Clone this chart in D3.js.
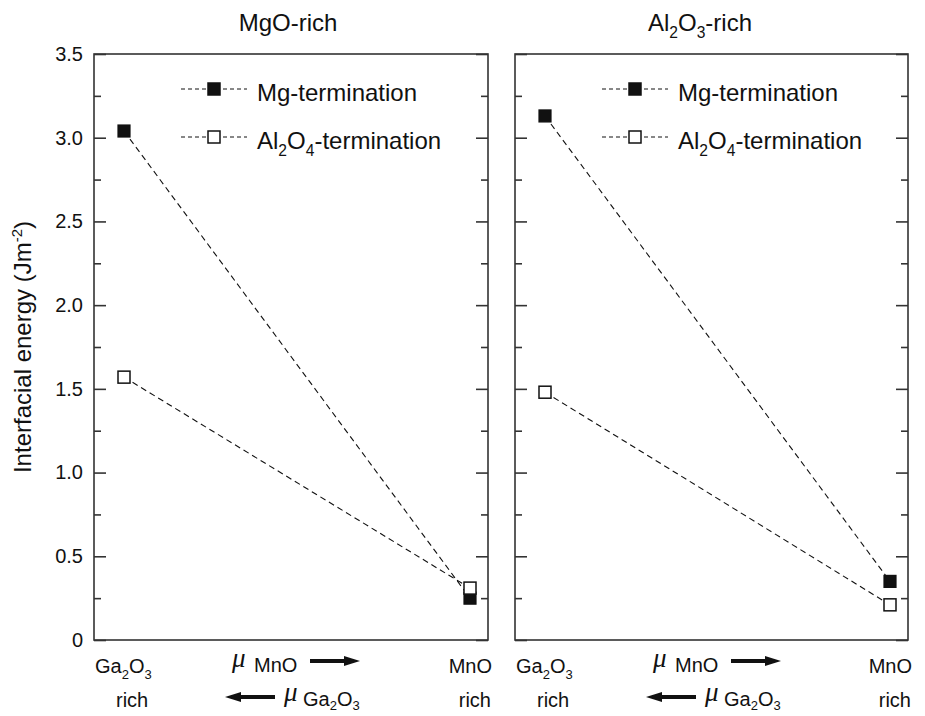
<!DOCTYPE html>
<html>
<head>
<meta charset="utf-8">
<script src="https://cdn.jsdelivr.net/npm/d3@7"></script>
<style>
  body { margin: 0; background: #fff; }
  text { font-family: "Liberation Sans", Arial, sans-serif; fill: #111; }
</style>
</head>
<body>
<div id="chart"></div>
<script>
// panel titles (base text + subscripts handled below)
const panelNames = ["MgO-rich", "Al2O3-rich"];
// interfacial energy at the Ga2O3-rich and MnO-rich limits
const mgTermination = [[3.04, 0.25], [3.13, 0.35]];
const al2o4Termination = [[1.57, 0.31], [1.48, 0.21]];
const majorTicks = [0, 0.5, 1.0, 1.5, 2.0, 2.5, 3.0, 3.5];
const minorTicks = [0.25, 0.75, 1.25, 1.75, 2.25, 2.75, 3.25];

const W = 925, H = 716;
const svg = d3.select("#chart").append("svg")
    .attr("width", W).attr("height", H);

// panel frames
const panelX = [[94, 488], [515, 908]];
const y = d3.scaleLinear().domain([0, 3.5]).range([640, 54]);

// text with subscripts: parts = [[str, isSub], ...]
function subText(sel, parts, size, shift = 0.28) {
  let down = false;
  parts.forEach(([s, sub]) => {
    const t = sel.append("tspan").text(s);
    if (sub) {
      t.attr("font-size", size * 0.65).attr("dy", down ? 0 : size * shift);
      down = true;
    } else {
      t.attr("dy", down ? -size * shift : 0);
      down = false;
    }
  });
}

const titleParts = [
  [["MgO-rich", false]],
  [["Al", false], ["2", true], ["O", false], ["3", true], ["-rich", false]]
];
const titleX = [288, 700];

panelX.forEach(([x0, x1], p) => {
  const g = svg.append("g");
  const x = d3.scaleLinear().domain([0, 1]).range([x0 + 30, x1 - 18]);

  // frame
  g.append("rect")
      .attr("x", x0).attr("y", y(3.5))
      .attr("width", x1 - x0).attr("height", y(0) - y(3.5))
      .attr("fill", "none").attr("stroke", "#333").attr("stroke-width", 1.6);

  // left ticks (labels only on the first panel)
  const left = g.append("g").attr("transform", `translate(${x0},0)`)
      .call(d3.axisLeft(y).tickValues(majorTicks).tickSize(-12).tickSizeOuter(0)
        .tickPadding(11)
        .tickFormat(d => p === 0 ? (d === 0 ? "0" : d3.format(".1f")(d)) : ""));
  left.append("g")
      .call(d3.axisLeft(y).tickValues(minorTicks).tickSize(-7).tickFormat(""));
  // right ticks
  const right = g.append("g").attr("transform", `translate(${x1},0)`)
      .call(d3.axisRight(y).tickValues(majorTicks).tickSize(-12).tickSizeOuter(0).tickFormat(""));
  right.append("g")
      .call(d3.axisRight(y).tickValues(minorTicks).tickSize(-7).tickFormat(""));
  g.selectAll(".domain").remove();
  g.selectAll(".tick line").attr("stroke", "#333").attr("stroke-width", 1.6);
  g.selectAll(".tick text").attr("font-size", 20).attr("fill", "#111")
      .style("font-family", "Liberation Sans, Arial, sans-serif");

  // title
  const tt = g.append("text").attr("x", titleX[p]).attr("y", 31)
      .attr("text-anchor", "middle").attr("font-size", 24);
  subText(tt, titleParts[p], 24);

  // dashed lines
  const line = d3.line().x((d, i) => x(i)).y(d => y(d));
  [mgTermination[p], al2o4Termination[p]].forEach(vals => {
    g.append("path").attr("d", line(vals))
        .attr("fill", "none").attr("stroke", "#111").attr("stroke-width", 1.1)
        .attr("stroke-dasharray", "6,4");
  });

  // markers: filled first, open on top
  const s = 12;
  g.selectAll(".mg").data(mgTermination[p]).enter().append("rect")
      .attr("x", (d, i) => x(i) - s / 2).attr("y", d => y(d) - s / 2)
      .attr("width", s).attr("height", s)
      .attr("fill", "#111").attr("stroke", "#111").attr("stroke-width", 1.2);
  g.selectAll(".al").data(al2o4Termination[p]).enter().append("rect")
      .attr("x", (d, i) => x(i) - s / 2).attr("y", d => y(d) - s / 2)
      .attr("width", s).attr("height", s)
      .attr("fill", "#fff").attr("stroke", "#111").attr("stroke-width", 1.5);

  // legend
  const legendRows = [
    { y: 89, fill: "#111", parts: [["Mg-termination", false]] },
    { y: 137, fill: "#fff", parts: [["Al", false], ["2", true], ["O", false], ["4", true], ["-termination", false]] }
  ];
  legendRows.forEach(r => {
    g.append("line").attr("x1", x0 + 87).attr("x2", x0 + 153)
        .attr("y1", r.y).attr("y2", r.y)
        .attr("stroke", "#111").attr("stroke-width", 1).attr("stroke-dasharray", "4,3");
    g.append("rect").attr("x", x0 + 120 - 6).attr("y", r.y - 6)
        .attr("width", 12).attr("height", 12)
        .attr("fill", r.fill).attr("stroke", "#111").attr("stroke-width", 1.5);
    const lt = g.append("text").attr("x", x0 + 163).attr("y", r.y + 12)
        .attr("font-size", 24);
    subText(lt, r.parts, 24);
  });

  // bottom labels
  const gl = g.append("text").attr("x", x0 + 1).attr("y", 673).attr("font-size", 20);
  subText(gl, [["Ga", false], ["2", true], ["O", false], ["3", true]], 20);
  g.append("text").attr("x", x0 + 22).attr("y", 707).attr("font-size", 20).text("rich");
  g.append("text").attr("x", x1 + 4).attr("y", 673).attr("font-size", 20)
      .attr("text-anchor", "end").text("MnO");
  g.append("text").attr("x", x1 + 3).attr("y", 707).attr("font-size", 20)
      .attr("text-anchor", "end").text("rich");

  // chemical potential labels
  g.append("text").attr("x", x0 + 138).attr("y", 667).attr("font-size", 27)
      .style("font-family", "Liberation Serif, serif").attr("font-style", "italic").text("\u03bc");
  g.append("text").attr("x", x0 + 160).attr("y", 672).attr("font-size", 20).text("MnO");
  g.append("text").attr("x", x0 + 190).attr("y", 701).attr("font-size", 27)
      .style("font-family", "Liberation Serif, serif").attr("font-style", "italic").text("\u03bc");
  const gm = g.append("text").attr("x", x0 + 209).attr("y", 706).attr("font-size", 20);
  subText(gm, [["Ga", false], ["2", true], ["O", false], ["3", true]], 20, 0.2);

  // arrows
  g.append("line").attr("x1", x0 + 216).attr("x2", x0 + 254).attr("y1", 661).attr("y2", 661)
      .attr("stroke", "#111").attr("stroke-width", 4);
  g.append("path").attr("d", `M${x0 + 266},661 L${x0 + 250},656 L${x0 + 250},666 Z`).attr("fill", "#111");
  g.append("line").attr("x1", x0 + 143).attr("x2", x0 + 181).attr("y1", 697).attr("y2", 697)
      .attr("stroke", "#111").attr("stroke-width", 4);
  g.append("path").attr("d", `M${x0 + 131},697 L${x0 + 147},692 L${x0 + 147},702 Z`).attr("fill", "#111");
});

// y axis title
const yt = svg.append("text")
    .attr("transform", `translate(31,${(y(0) + y(3.5)) / 2}) rotate(-90)`)
    .attr("text-anchor", "middle").attr("font-size", 24);
yt.append("tspan").text("Interfacial energy (Jm");
yt.append("tspan").attr("font-size", 15).attr("dy", -9).text("-2");
yt.append("tspan").attr("dy", 9).text(")");
</script>
</body>
</html>
